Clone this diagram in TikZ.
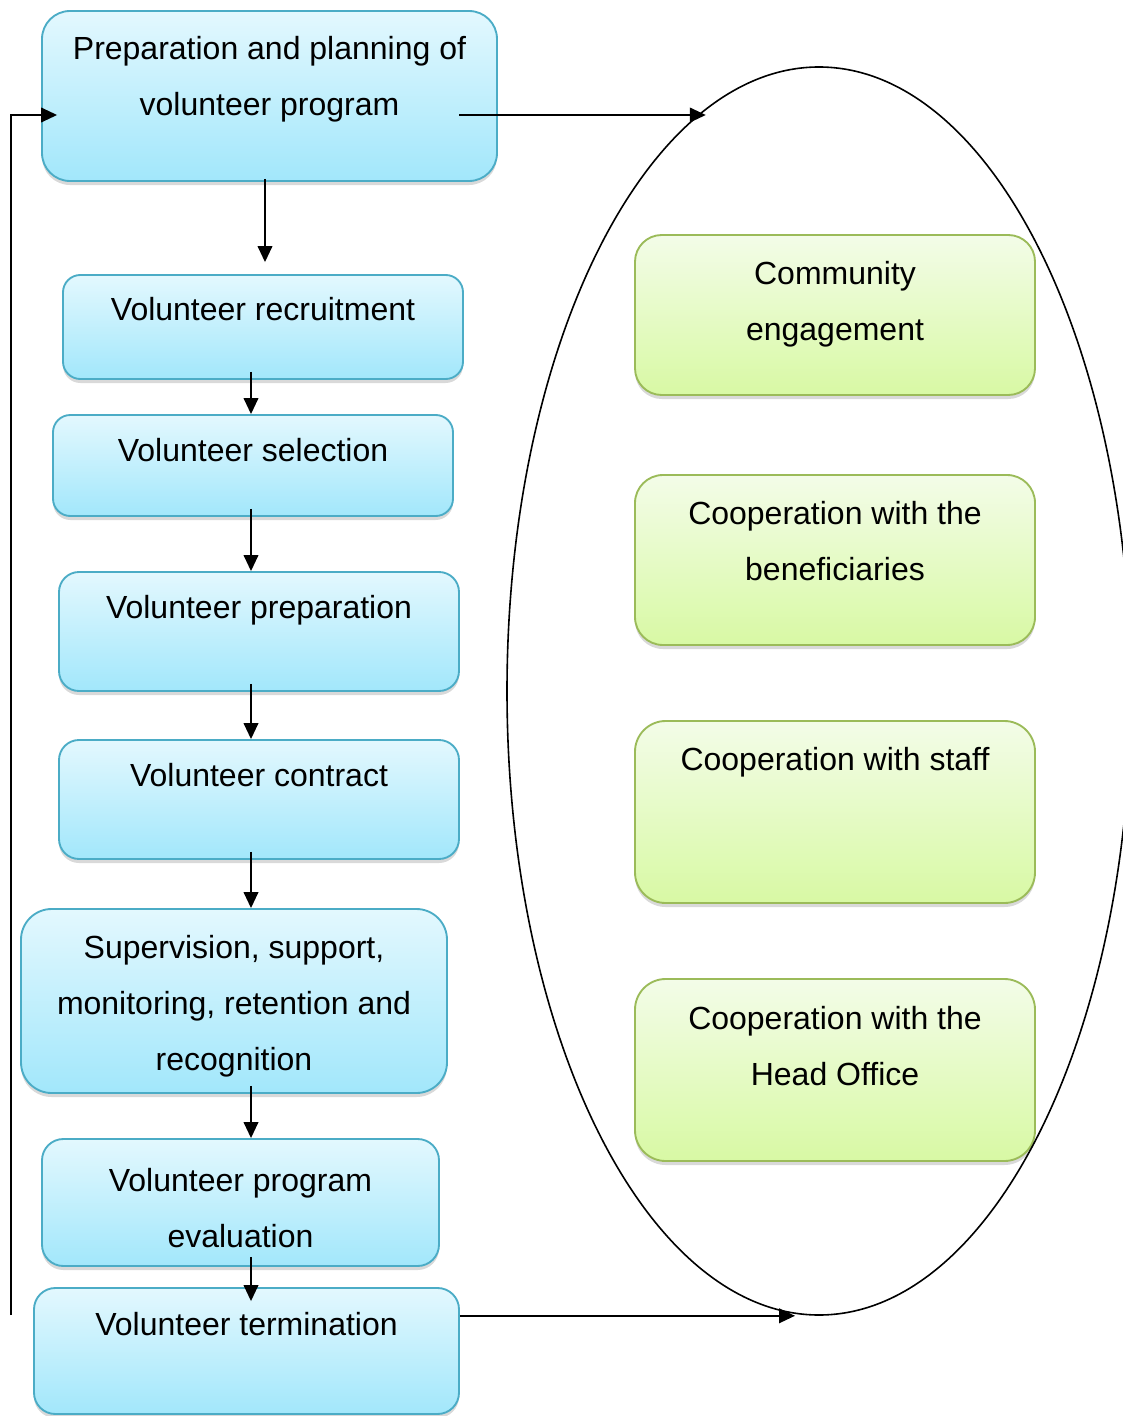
\documentclass[tikz,border=0pt]{standalone}
\usepackage{fontspec}
\setmainfont{Liberation Sans}
\usetikzlibrary{arrows.meta,shapes.geometric,shadows,fit,calc}

\definecolor{aquaedge}{HTML}{4BACC6}
\definecolor{aquatop}{HTML}{E3F8FE}
\definecolor{aquabot}{HTML}{A2E7FB}
\definecolor{leafedge}{HTML}{9BBB59}
\definecolor{leaftop}{HTML}{F3FCE8}
\definecolor{leafbot}{HTML}{D8F9A4}

\tikzset{
  stagebox/.style={draw=aquaedge, line width=1.4pt, rounded corners=#1,
    top color=aquatop, bottom color=aquabot, inner sep=0pt,
    drop shadow={shadow xshift=0pt, shadow yshift=-3pt, opacity=0.3}},
  stagebox/.default=13pt,
  partnerbox/.style={draw=leafedge, line width=1.4pt, rounded corners=#1,
    top color=leaftop, bottom color=leafbot, inner sep=0pt,
    drop shadow={shadow xshift=0pt, shadow yshift=-3pt, opacity=0.3}},
  partnerbox/.default=20pt,
  boxtext/.style={anchor=north, align=center, inner sep=0pt,
    font=\fontsize{24}{42}\selectfont},
  flow/.style={line width=1.3pt, -{Triangle[length=12pt,width=11pt]}},
}

\begin{document}
\begin{tikzpicture}[x=0.75pt,y=-0.75pt]
  \useasboundingbox (0,0) rectangle (1122,1416);

  % stages of the volunteer programme
  \node[stagebox=21pt, fit={(42,11) (497,181)}] (prep) {};
  \node[stagebox=13pt, fit={(63,275) (463,379)}] (recruit) {};
  \node[stagebox=13pt, fit={(53,415) (453,516)}] (select) {};
  \node[stagebox=15pt, fit={(59,572) (459,691)}] (train) {};
  \node[stagebox=15pt, fit={(59,740) (459,859)}] (contract) {};
  \node[stagebox=23pt, fit={(21,909) (447,1093)}] (support) {};
  \node[stagebox=16pt, fit={(42,1139) (439,1266)}] (review) {};
  \node[stagebox=16pt, fit={(34,1288) (459,1414)}] (leave) {};

  \node[boxtext] (prep-t) at ($(prep.north)+(0,25.5)$) {Preparation and planning of\\volunteer program};
  \node[boxtext] (recruit-t) at ($(recruit.north)+(0,22.5)$) {Volunteer recruitment};
  \node[boxtext] (select-t) at ($(select.north)+(0,23.5)$) {Volunteer selection};
  \node[boxtext] (train-t) at ($(train.north)+(0,23.5)$) {Volunteer preparation};
  \node[boxtext] (contract-t) at ($(contract.north)+(0,23.5)$) {Volunteer contract};
  \node[boxtext] (support-t) at ($(support.north)+(0,26.5)$) {Supervision, support,\\monitoring, retention and\\recognition};
  \node[boxtext] (review-t) at ($(review.north)+(0,29.5)$) {Volunteer program\\evaluation};
  \node[boxtext] (leave-t) at ($(leave.north)+(0,24.5)$) {Volunteer termination};

  % cooperation partners
  \node[partnerbox=20pt, fit={(635,235) (1035,395)}] (community) {};
  \node[partnerbox=21pt, fit={(635,475) (1035,645)}] (clients) {};
  \node[partnerbox=23pt, fit={(635,721) (1035,903)}] (staff) {};
  \node[partnerbox=23pt, fit={(635,979) (1035,1161)}] (office) {};

  \node[boxtext] (community-t) at ($(community.north)+(0,26.5)$) {Community\\engagement};
  \node[boxtext] (clients-t) at ($(clients.north)+(0,26.5)$) {Cooperation with the\\beneficiaries};
  \node[boxtext] (staff-t) at ($(staff.north)+(0,26.5)$) {Cooperation with staff};
  \node[boxtext] (office-t) at ($(office.north)+(0,27.5)$) {Cooperation with the\\Head Office};

  \node[draw, ellipse, line width=1.2pt, inner sep=0pt,
        minimum width=468pt, minimum height=936pt] (ring) at (819,691) {};

  % connectors
  \coordinate (spineA) at (265,0);
  \coordinate (spine) at (251,0);
  \coordinate (tap) at (459,115);
  \coordinate (back) at (11,1315);

  \draw[flow] ($(prep.south -| spineA)+(0,-3)$) -- ($(recruit.north -| spineA)+(0,-12)$);
  \foreach \a/\b in {recruit/select, select/train, train/contract, contract/support, support/review}
    \draw[flow] ($(\a.south -| spine)+(0,-8)$) -- (\b.north -| spine);
  \draw[flow] ($(review.south -| spine)+(0,-10)$) -- ($(leave.north -| spine)+(0,14)$);

  \draw[flow] (tap) -- (tap -| ring.101.77);
  \draw[flow] (leave.east |- ring.south) -- ($(ring.south)+(-24,0)$);
  \draw[flow] (back) |- ($(prep.west |- tap)+(16,0)$);
\end{tikzpicture}
\end{document}
